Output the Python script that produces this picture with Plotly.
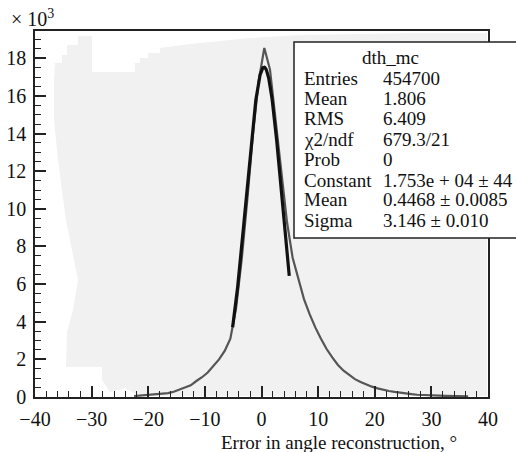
import numpy as np
import plotly.graph_objects as go

# ---- data ----
bin_centers = [
    -22.5, -21.5, -20.5, -19.5, -18.5, -17.5, -16.5, -15.5, -14.5, -13.5,
    -12.5, -11.5, -10.5, -9.5, -8.5, -7.5, -6.5, -5.5, -4.5, -3.5,
    -2.5, -1.5, -0.5, 0.5, 1.5, 2.5, 3.5, 4.5, 5.5, 6.5,
    7.5, 8.5, 9.5, 10.5, 11.5, 12.5, 13.5, 14.5, 15.5, 16.5,
    17.5, 18.5, 19.5, 20.5, 21.5, 22.5, 23.5, 24.5, 25.5, 26.5,
    27.5, 28.5, 29.5, 30.5, 31.5, 32.5, 33.5, 34.5, 35.5, 36.5,
]
counts_k = [
    0.05, 0.07, 0.09, 0.11, 0.13, 0.16, 0.21, 0.28, 0.38, 0.48,
    0.62, 0.85, 1.05, 1.30, 1.65, 2.00, 2.45, 3.10, 4.70, 7.30,
    10.5, 14.0, 16.8, 18.55, 17.4, 14.7, 11.8, 9.3, 7.4, 6.3,
    5.2, 4.4, 3.7, 3.1, 2.55, 2.1, 1.7, 1.4, 1.15, 0.95,
    0.80, 0.66, 0.55, 0.46, 0.38, 0.32, 0.27, 0.22, 0.18, 0.15,
    0.12, 0.10, 0.09, 0.08, 0.07, 0.06, 0.05, 0.05, 0.04, 0.04,
]
fit_constant = 1.753e4
fit_mean = 0.4468
fit_sigma = 3.146
fit_range = [-5.1, 4.9]

stats_title = "dth_mc"
stats_labels = ["Entries", "Mean", "RMS", "χ2/ndf", "Prob", "Constant", "Mean", "Sigma"]
stats_values = ["454700", "1.806", "6.409", "679.3/21", "0",
                "1.753e + 04 ± 44", "0.4468 ± 0.0085", "3.146 ± 0.010"]

x_ticks = [-40, -30, -20, -10, 0, 10, 20, 30, 40]
y_ticks = [0, 2, 4, 6, 8, 10, 12, 14, 16, 18]

# ---- figure geometry ----
W, H = 516, 452
L, R, T, B = 35, 28, 31, 55
PW, PH = W - L - R, H - T - B
X_RANGE = [-40, 40]
Y_RANGE = [0, 19.45]
SERIF = "Liberation Serif, Times New Roman, serif"


def px2paper(px, py):
    return (px - L) / PW, (H - B - py) / PH


fig = go.Figure()

# histogram outline
fig.add_trace(go.Scatter(
    x=bin_centers, y=counts_k, mode="lines", line_shape="linear",
    line=dict(color="#555555", width=2.2), showlegend=False, hoverinfo="skip"))

# gaussian fit curve over fit range
xf = np.linspace(fit_range[0], fit_range[1], 200)
yf = fit_constant * np.exp(-0.5 * ((xf - fit_mean) / fit_sigma) ** 2) / 1000.0
fig.add_trace(go.Scatter(
    x=xf, y=yf, mode="lines", line=dict(color="#111111", width=3.2),
    showlegend=False, hoverinfo="skip"))

# light grey scanned-paper background blob (decoration)
blob_px = [(54, 80), (55, 63), (62, 63), (62, 55), (67, 55), (67, 45), (78, 45), (78, 36),
           (92, 36), (92, 72), (135, 72), (135, 63), (140, 63), (140, 58), (148, 58),
           (148, 53), (160, 53), (160, 48), (190, 44), (250, 38), (300, 35), (420, 33),
           (487, 33), (487, 396), (140, 396), (125, 388), (110, 392), (102, 380),
           (102, 367), (66, 367), (67, 332), (73, 310), (78, 280), (66, 220),
           (58, 160), (54, 120)]
pts = [px2paper(a, b) for a, b in blob_px]
path = "M " + " L ".join(f"{x:.4f},{y:.4f}" for x, y in pts) + " Z"
fig.add_shape(type="path", path=path, xref="paper", yref="paper",
              fillcolor="#f1f1f1", line=dict(width=0), layer="below")

# stats box
bx0, by0 = px2paper(294, 238)
bx1, by1 = px2paper(530, 42)
fig.add_shape(type="rect", xref="paper", yref="paper", x0=bx0, y0=by0, x1=bx1, y1=by1,
              fillcolor="white", line=dict(color="#222", width=1.5), layer="above")

tx, ty = px2paper(390, 58)
fig.add_annotation(text=stats_title, x=tx, y=ty, xref="paper", yref="paper",
                   xanchor="center", yanchor="middle", showarrow=False,
                   font=dict(family=SERIF, size=19, color="#111"))
row_y = [78, 98, 118, 139, 159, 180, 200, 220]
for lab, val, ry in zip(stats_labels, stats_values, row_y):
    lx, ly = px2paper(302, ry)
    vx, _ = px2paper(381, ry)
    fig.add_annotation(text=lab, x=lx, y=ly, xref="paper", yref="paper",
                       xanchor="left", yanchor="middle", showarrow=False,
                       font=dict(family=SERIF, size=19, color="#111"))
    fig.add_annotation(text=val, x=vx, y=ly, xref="paper", yref="paper",
                       xanchor="left", yanchor="middle", showarrow=False,
                       font=dict(family=SERIF, size=19, color="#111"))

# exponent label and axis title
ex, ey = px2paper(9, 18)
fig.add_annotation(text="× 10<sup>3</sup>", x=ex, y=ey, xref="paper", yref="paper",
                   xanchor="left", yanchor="middle", showarrow=False,
                   font=dict(family=SERIF, size=20, color="#111"))
ax, ay = px2paper(459, 442)
fig.add_annotation(text="Error in angle reconstruction, °", x=ax, y=ay,
                   xref="paper", yref="paper", xanchor="right", yanchor="middle",
                   showarrow=False, font=dict(family=SERIF, size=19, color="#111"))

fig.update_layout(
    width=W, height=H, margin=dict(l=L, r=R, t=T, b=B, autoexpand=False),
    paper_bgcolor="white", plot_bgcolor="rgba(0,0,0,0)",
    font=dict(family=SERIF, size=20, color="#111"),
    xaxis=dict(range=X_RANGE, tickvals=x_ticks, ticks="inside", ticklen=11,
               tickwidth=1.5, tickcolor="#222", showline=True, linecolor="#222",
               linewidth=1.5, mirror=True, showgrid=False, zeroline=False,
               automargin=False,
               minor=dict(dtick=2, ticks="inside", ticklen=6, tickcolor="#222",
                          tickwidth=1.3, showgrid=False),
               tickfont=dict(family=SERIF, size=20), ticklabelstandoff=3),
    yaxis=dict(range=Y_RANGE, tickvals=y_ticks, ticks="inside", ticklen=11,
               tickwidth=1.5, tickcolor="#222", showline=True, linecolor="#222",
               linewidth=1.5, mirror=True, showgrid=False, zeroline=False,
               automargin=False,
               minor=dict(dtick=0.5, ticks="inside", ticklen=6, tickcolor="#222",
                          tickwidth=1.3, showgrid=False),
               tickfont=dict(family=SERIF, size=20), ticklabelstandoff=3),
)

fig.write_html("out.html", config={"displayModeBar": False},
               post_script="document.body.style.margin='0';document.body.style.overflow='hidden';")
